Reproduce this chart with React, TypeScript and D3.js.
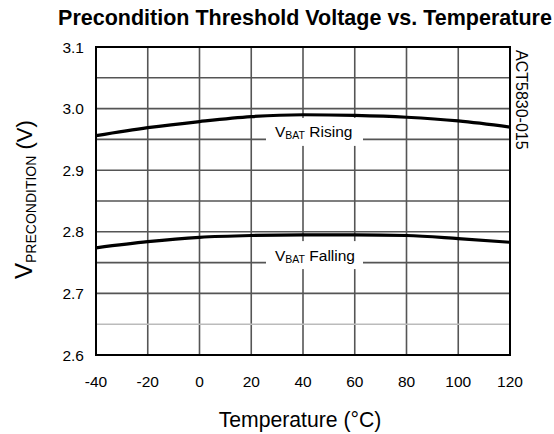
import React from "react";
import * as d3 from "d3";

const temps = [-40, -20, 0, 20, 40, 60, 80, 100, 120];
const rising = [2.956, 2.969, 2.979, 2.987, 2.990, 2.989, 2.986, 2.980, 2.970];
const falling = [2.774, 2.784, 2.791, 2.794, 2.795, 2.795, 2.794, 2.789, 2.783];
const xTicks = [-40, -20, 0, 20, 40, 60, 80, 100, 120];
const yTicks = [2.6, 2.7, 2.8, 2.9, 3.0, 3.1];
const yGrid = [2.65, 2.7, 2.75, 2.8, 2.85, 2.9, 2.95, 3.0, 3.05];
const lightGrid = [2.65];

const W = 554, H = 434;
const L = 96, R = 510, T = 47, B = 355;

export default function App() {
  const x = d3.scaleLinear().domain([-40, 120]).range([L, R]);
  const y = d3.scaleLinear().domain([2.6, 3.1]).range([B, T]);
  const line = d3
    .line<number>()
    .x((_, i) => x(temps[i]))
    .y((d) => y(d))
    .curve(d3.curveMonotoneX);
  const font = "'Liberation Sans', Arial, sans-serif";
  const labels = [
    { v: 2.95, name: "Rising" },
    { v: 2.75, name: "Falling" },
  ];
  return (
    <svg
      width={W}
      height={H}
      style={{ position: "absolute", left: 0, top: 0, background: "#fff" }}
      fontFamily={font}
    >
      <rect x={0} y={0} width={W} height={H} fill="#fff" />
      <text x={305} y={25} textAnchor="middle" fontWeight="bold" fontSize={21.5}>
        Precondition Threshold Voltage vs. Temperature
      </text>
      {xTicks.map((t) => (
        <line key={"vx" + t} x1={x(t)} x2={x(t)} y1={T} y2={B} stroke="#555" strokeWidth={1.6} />
      ))}
      {yGrid.map((t) => (
        <line
          key={"hy" + t}
          x1={L}
          x2={R}
          y1={y(t)}
          y2={y(t)}
          stroke={lightGrid.includes(t) ? "#bbb" : "#555"}
          strokeWidth={1.6}
        />
      ))}
      {labels.map((lb) => (
        <rect key={"bx" + lb.name} x={266} y={y(lb.v) - 21.5} width={97} height={28} fill="#fff" />
      ))}
      <rect x={L} y={T} width={R - L} height={B - T} fill="none" stroke="#000" strokeWidth={2} />
      <path d={line(rising) || ""} fill="none" stroke="#000" strokeWidth={3.2} />
      <path d={line(falling) || ""} fill="none" stroke="#000" strokeWidth={3.2} />
      {labels.map((lb) => (
        <text key={"lt" + lb.name} x={275} y={y(lb.v) - 2} fontSize={15.5}>
          V<tspan fontSize={10.5} dy={2}>BAT</tspan>
          <tspan dy={-2}> {lb.name}</tspan>
        </text>
      ))}
      {yTicks.map((t) => (
        <text key={"yt" + t} x={84} y={y(t) + 5.5} textAnchor="end" fontSize={15.5}>
          {t.toFixed(1)}
        </text>
      ))}
      {xTicks.map((t) => (
        <text key={"xt" + t} x={x(t)} y={386.5} textAnchor="middle" fontSize={15.5}>
          {t}
        </text>
      ))}
      <text x={300} y={427} textAnchor="middle" fontSize={21.2}>
        Temperature (°C)
      </text>
      <text transform="translate(32,279) rotate(-90)" textAnchor="start" fontSize={24}>
        V<tspan fontSize={14} dy={4}>PRECONDITION</tspan>
        <tspan fontSize={22} dy={-4}> (V)</tspan>
      </text>
      <text transform="translate(516,50) rotate(90)" textAnchor="start" fontSize={16}>
        ACT5830-015
      </text>
    </svg>
  );
}
